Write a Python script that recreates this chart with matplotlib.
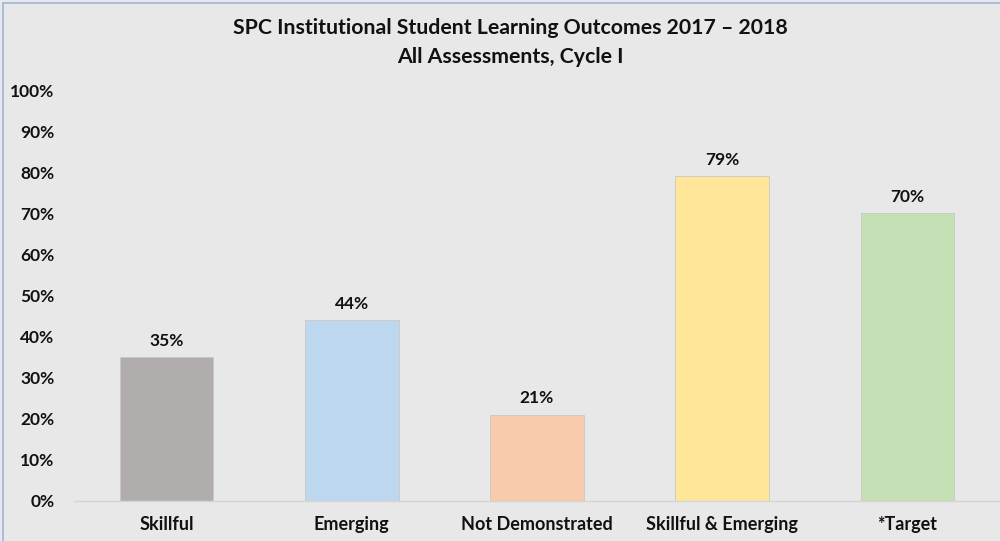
import matplotlib.pyplot as plt
from matplotlib.patches import Rectangle

categories = ["Skillful", "Emerging", "Not Demonstrated", "Skillful & Emerging", "*Target"]
values = [35, 44, 21, 79, 70]
colors = ["#b0adac", "#bdd7ee", "#f8cbad", "#ffe699", "#c5e0b4"]
yticks = [0, 10, 20, 30, 40, 50, 60, 70, 80, 90, 100]

plt.rcParams['font.family'] = ['Lato', 'DejaVu Sans']

fig = plt.figure(figsize=(10, 5.41), dpi=100, facecolor="#e9e8e8")
ax = fig.add_axes([0.074, 0.074, 0.926, 0.7596])
ax.set_facecolor("none")

x = range(len(categories))
ax.bar(x, values, width=0.505, color=colors, edgecolor="#c8c8c8", linewidth=0.6, zorder=2)

for xi, v in zip(x, values):
    ax.text(xi, v + 2.0, f"{v}%", ha="center", va="bottom",
            fontsize=12.5, fontweight="bold", color="#111111")

ax.set_xlim(-0.5, len(categories) - 0.5)
ax.set_ylim(0, 100)
ax.set_yticks(yticks)
ax.set_yticklabels([f"{t}%" for t in yticks], fontsize=12.5, fontweight="bold")
ax.set_xticks(list(x))
ax.set_xticklabels(categories, fontsize=13, fontweight="bold")
ax.tick_params(axis="both", length=0, colors="#111111")
ax.tick_params(axis="y", pad=14)
ax.tick_params(axis="x", pad=11)

for s in ["top", "right", "left"]:
    ax.spines[s].set_visible(False)
ax.spines["bottom"].set_color("#d4d4d4")
ax.spines["bottom"].set_linewidth(1)

fig.text(0.51, 0.948, "SPC Institutional Student Learning Outcomes 2017 \u2013 2018",
         ha="center", va="center", fontsize=15.3, fontweight="bold", color="#111111")
fig.text(0.51, 0.894, "All Assessments, Cycle I",
         ha="center", va="center", fontsize=15.3, fontweight="bold", color="#111111")

# thin frame at the top-left like the slide border
fig.patches.append(Rectangle((0.003, -0.01), 1.1, 1.004, transform=fig.transFigure,
                             fill=False, edgecolor="#9db4dd", linewidth=1.2))

fig.savefig("out.png", dpi=100, facecolor=fig.get_facecolor())
